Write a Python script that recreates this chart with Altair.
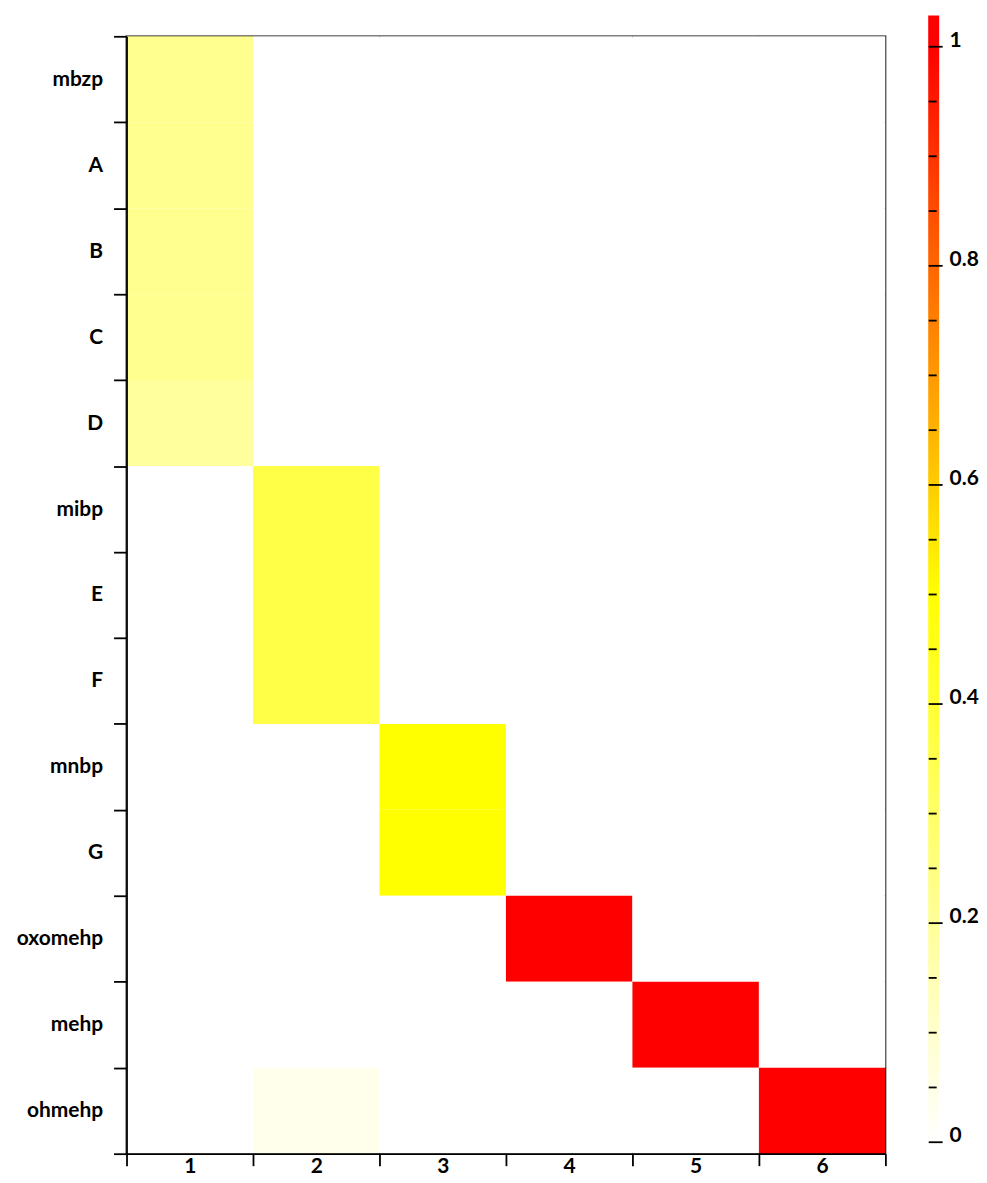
import altair as alt
import pandas as pd

rows = ["mbzp", "A", "B", "C", "D", "mibp", "E", "F", "mnbp", "G", "oxomehp", "mehp", "ohmehp"]
cols = ["1", "2", "3", "4", "5", "6"]
values = [
    [0.22, 0.00, 0.00, 0.00, 0.00, 0.00],
    [0.22, 0.00, 0.00, 0.00, 0.00, 0.00],
    [0.22, 0.00, 0.00, 0.00, 0.00, 0.00],
    [0.22, 0.00, 0.00, 0.00, 0.00, 0.00],
    [0.19, 0.00, 0.00, 0.00, 0.00, 0.00],
    [0.00, 0.36, 0.00, 0.00, 0.00, 0.00],
    [0.00, 0.36, 0.00, 0.00, 0.00, 0.00],
    [0.00, 0.36, 0.00, 0.00, 0.00, 0.00],
    [0.00, 0.00, 0.50, 0.00, 0.00, 0.00],
    [0.00, 0.00, 0.50, 0.00, 0.00, 0.00],
    [0.00, 0.00, 0.00, 1.00, 0.00, 0.00],
    [0.00, 0.00, 0.00, 0.00, 1.00, 0.00],
    [0.00, 0.04, 0.00, 0.00, 0.00, 1.00],
]
color_stops = [0.0, 0.5, 1.0]          # value where each colour is reached
colors = ["#ffffff", "#ffff00", "#ff0000"]
colorbar_top = 1.028                   # colour bar runs from 0 to this value
colorbar_axis_max = 1.0091             # top of colour-bar axis range (aligned with plot top)
colorbar_ticks = [round(0.05 * i, 2) for i in range(21)]

records = []
for r, row_vals in zip(rows, values):
    for c, v in zip(cols, row_vals):
        records.append({"row": r, "col": c, "value": v})
df = pd.DataFrame(records)

FONT = "Lato"
FS = 21
LW = 1.8

heat = alt.Chart(df).mark_rect().encode(
    x=alt.X("col:N", sort=cols,
            scale=alt.Scale(paddingInner=0, paddingOuter=0),
            axis=alt.Axis(title=None, tickBand="extent", labelAngle=0, grid=False,
                          tickSize=12, tickWidth=LW, tickColor="black",
                          domainColor="black", domainWidth=LW,
                          labelFont=FONT, labelFontWeight="bold", labelFontSize=FS,
                          labelColor="black", labelBaseline="alphabetic", labelPadding=7)),
    y=alt.Y("row:N", sort=rows,
            scale=alt.Scale(paddingInner=0, paddingOuter=0),
            axis=alt.Axis(title=None, tickBand="extent", grid=False,
                          tickSize=13, tickWidth=LW, tickColor="black",
                          domainColor="black", domainWidth=LW,
                          labelFont=FONT, labelFontWeight="bold", labelFontSize=FS,
                          labelColor="black", labelPadding=11)),
    color=alt.Color("value:Q",
                    scale=alt.Scale(domain=color_stops, range=colors,
                                    interpolate="rgb", clamp=True),
                    legend=None),
).properties(
    width=762, height=1122,
    view=alt.ViewBackground(stroke="black", strokeWidth=LW),
)

cb_df = pd.DataFrame({"lo": [0.0], "hi": [colorbar_top]})
major_test = "abs(datum.value*5 - round(datum.value*5)) < 0.001"
gradient_stops = [alt.GradientStop(color=c, offset=s / colorbar_top) for c, s in zip(colors, color_stops)]
gradient_stops.append(alt.GradientStop(color=colors[-1], offset=1))
cbar = alt.Chart(cb_df).mark_rect(
    color=alt.Gradient(gradient="linear", stops=gradient_stops, x1=0, x2=0, y1=1, y2=0)
).encode(
    y=alt.Y("lo:Q",
            scale=alt.Scale(domain=[0, colorbar_axis_max], nice=False, zero=False),
            axis=alt.Axis(title=None, orient="right", offset=-11, values=colorbar_ticks,
                          grid=False, domain=False, zindex=1,
                          labelExpr=f"{major_test} ? format(datum.value, '.1~f') : ''",
                          tickSize={"condition": {"test": major_test, "value": 14}, "value": 8},
                          tickWidth=LW, tickColor="black",
                          labelBaseline="alphabetic", labelPadding=7,
                          labelFont=FONT, labelFontWeight="bold", labelFontSize=FS,
                          labelColor="black")),
    y2="hi:Q",
).properties(
    width=11, height=1110,
    view=alt.ViewBackground(strokeOpacity=0),
)

chart = alt.hconcat(heat, cbar, spacing=40).properties(
    padding={"left": 7, "top": 5, "right": 0, "bottom": -4}
).configure(background="white")

chart.save("out.html", embed_options={"renderer": "svg", "actions": False})
